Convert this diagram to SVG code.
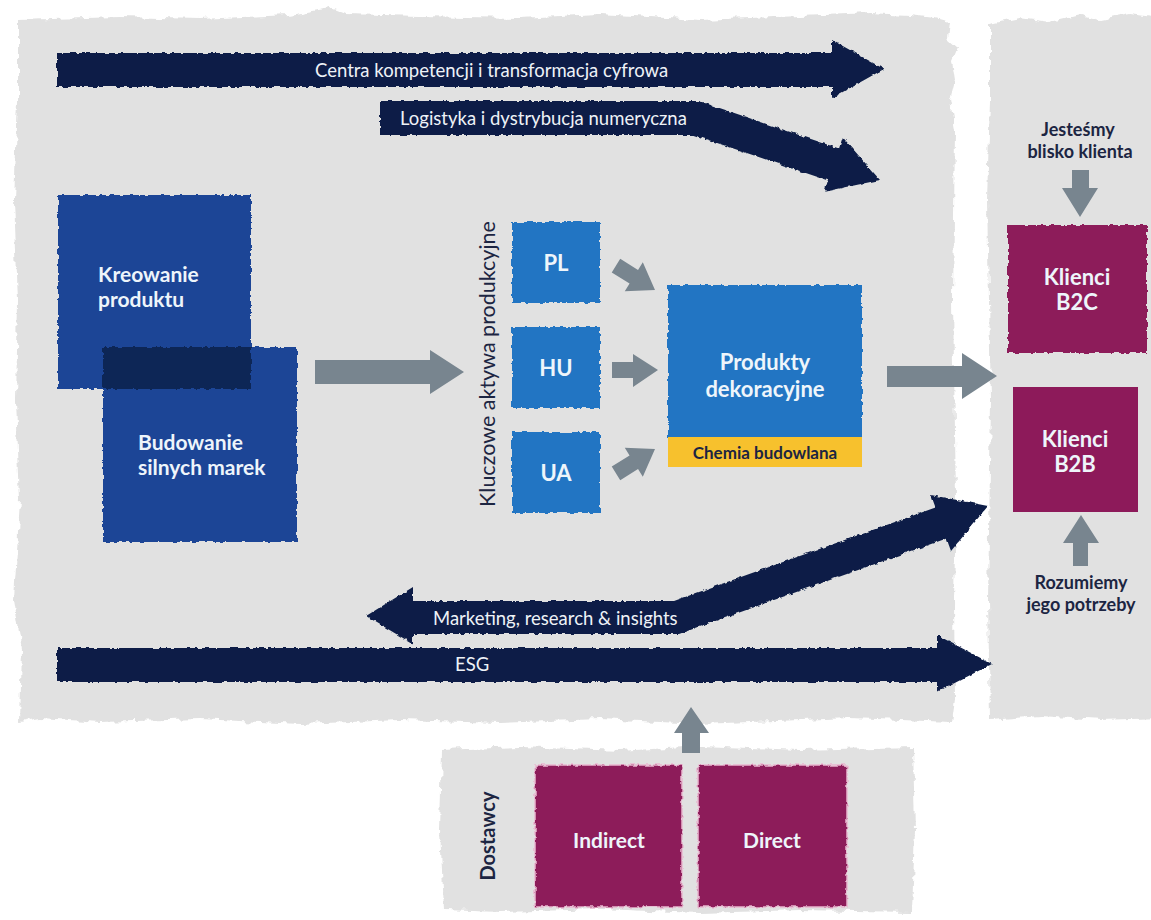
<svg xmlns="http://www.w3.org/2000/svg" width="1151" height="920" viewBox="0 0 1151 920">
  <style>
    .panel { fill: #e1e1e1; }
    .navy { fill: #0e1f47; }
    .grey { fill: #78858f; }
    .royal { fill: #1f4596; }
    .mid { fill: #2474c3; }
    .plum { fill: #8d1a5a; }
    .amber { fill: #f7c12d; }
    .lbl { font-family: Lato, "Liberation Sans", sans-serif; font-weight: 700; fill: #eef5fb; text-anchor: middle; }
    .lbl-l { font-family: Lato, "Liberation Sans", sans-serif; font-weight: 700; fill: #eef5fb; text-anchor: start; font-size: 21px; }
    .band { font-family: Lato, "Liberation Sans", sans-serif; font-size: 18.5px; fill: #eef2f7; }
    .dark { font-family: Lato, "Liberation Sans", sans-serif; font-weight: 700; fill: #1c2542; text-anchor: middle; }
  </style>
  <defs>
    <filter id="torn" x="-5%" y="-5%" width="110%" height="110%">
      <feTurbulence type="fractalNoise" baseFrequency="0.09" numOctaves="3" seed="4" result="n"/>
      <feDisplacementMap in="SourceGraphic" in2="n" scale="8" xChannelSelector="R" yChannelSelector="G"/>
    </filter>
    <filter id="rough" x="-5%" y="-5%" width="110%" height="110%">
      <feTurbulence type="fractalNoise" baseFrequency="0.2" numOctaves="2" seed="7" result="n"/>
      <feDisplacementMap in="SourceGraphic" in2="n" scale="4" xChannelSelector="R" yChannelSelector="G"/>
    </filter>
    <path id="small-arrow" d="M -46 -8 L -25 -8 L -25 -17 L 0 0 L -25 17 L -25 8 L -46 8 Z"/>
  </defs>

  <rect width="1151" height="920" fill="#ffffff"/>

  <!-- background panels -->
  <g id="panel-main">
    <path class="panel" filter="url(#torn)" d="M 18 20 L 120 17 L 200 19 L 290 15 L 330 8 L 345 14 L 420 16 L 520 18 L 600 14 L 700 20 L 800 16 L 870 13 L 910 15 L 935 18 L 950 22 L 948 40 L 957 48 L 952 60 L 955 80 L 950 100 L 955 130 L 953 300 L 956 500 L 954 600 L 955 700 L 952 722 L 850 718 L 700 724 L 600 719 L 500 723 L 400 720 L 300 724 L 200 719 L 100 722 L 40 718 L 20 722 L 22 650 L 14 600 L 20 500 L 16 400 L 18 300 L 14 200 L 18 100 Z"/>
  </g>
  <g id="panel-clients">
    <path class="panel" filter="url(#torn)" d="M 990 24 L 1020 18 L 1050 22 L 1080 15 L 1100 20 L 1130 14 L 1160 18 L 1160 718 L 1100 720 L 1040 716 L 990 720 L 988 600 L 991 400 L 987 200 L 990 100 Z"/>
  </g>
  <g id="panel-suppliers">
    <path class="panel" filter="url(#torn)" d="M 442 750 L 520 747 L 620 751 L 700 746 L 800 750 L 913 747 L 915 830 L 912 912 L 800 910 L 700 913 L 600 909 L 500 912 L 444 910 L 440 830 Z"/>
    <text class="dark" font-size="20" transform="translate(495,836) rotate(-90)">Dostawcy</text>
  </g>

  <!-- brand and product creation -->
  <g id="node-kreowanie">
    <rect class="royal" filter="url(#rough)" x="58" y="195" width="193" height="194"/>
    <text class="lbl-l" x="98" y="282">Kreowanie</text>
    <text class="lbl-l" x="98" y="307">produktu</text>
  </g>
  <g id="node-budowanie">
    <rect class="royal" filter="url(#rough)" x="103" y="347" width="194" height="195"/>
    <rect fill="#0f2657" filter="url(#rough)" x="103" y="347" width="148" height="42"/>
    <text class="lbl-l" x="138" y="450">Budowanie</text>
    <text class="lbl-l" x="138" y="475">silnych marek</text>
  </g>

  <!-- production sites -->
  <g id="label-aktywa">
    <text font-family="Lato, 'Liberation Sans', sans-serif" font-size="21.5" fill="#1c2542" text-anchor="middle" transform="translate(495,364) rotate(-90)">Kluczowe aktywa produkcyjne</text>
  </g>
  <g id="node-pl">
    <rect class="mid" filter="url(#rough)" x="512" y="222" width="88" height="81"/>
    <text class="lbl" font-size="22" x="556" y="271">PL</text>
  </g>
  <g id="node-hu">
    <rect class="mid" filter="url(#rough)" x="512" y="327" width="88" height="81"/>
    <text class="lbl" font-size="22" x="556" y="376">HU</text>
  </g>
  <g id="node-ua">
    <rect class="mid" filter="url(#rough)" x="512" y="432" width="88" height="81"/>
    <text class="lbl" font-size="22" x="556" y="481">UA</text>
  </g>

  <g id="node-produkty">
    <rect class="mid" filter="url(#rough)" x="668" y="285" width="194" height="153"/>
    <rect class="amber" x="668" y="437" width="194" height="30"/>
    <text class="lbl" font-size="22" x="765" y="370">Produkty</text>
    <text class="lbl" font-size="22" x="765" y="397">dekoracyjne</text>
    <text class="dark" font-size="17" x="765" y="459" fill="#2a1d10">Chemia budowlana</text>
  </g>

  <!-- clients -->
  <g id="label-blisko">
    <text class="dark" font-size="18" x="1078" y="136">Jesteśmy</text>
    <text class="dark" font-size="18" x="1080" y="158">blisko klienta</text>
  </g>
  <g id="node-b2c">
    <rect class="plum" filter="url(#rough)" x="1008" y="225" width="139" height="128"/>
    <text class="lbl" font-size="22" x="1077" y="285">Klienci</text>
    <text class="lbl" font-size="22" x="1077" y="310">B2C</text>
  </g>
  <g id="node-b2b">
    <rect class="plum" x="1013" y="387" width="125" height="125"/>
    <text class="lbl" font-size="22" x="1075" y="447">Klienci</text>
    <text class="lbl" font-size="22" x="1075" y="472">B2B</text>
  </g>
  <g id="label-potrzeby">
    <text class="dark" font-size="18" x="1081" y="589">Rozumiemy</text>
    <text class="dark" font-size="18" x="1081" y="611">jego potrzeby</text>
  </g>

  <!-- suppliers -->
  <g id="node-indirect">
    <rect class="plum" filter="url(#rough)" x="535" y="765" width="147" height="142" stroke="#e9b8cf" stroke-width="1.5"/>
    <text class="lbl" font-size="21" x="609" y="848">Indirect</text>
  </g>
  <g id="node-direct">
    <rect class="plum" filter="url(#rough)" x="698" y="765" width="149" height="142" stroke="#e9b8cf" stroke-width="1.5"/>
    <text class="lbl" font-size="21" x="772" y="848">Direct</text>
  </g>

  <!-- connectors -->
  <g id="connectors">
    <!-- cross-cutting capability bands -->
    <path class="navy" filter="url(#rough)" d="M 57 53 L 832 53 L 832 40 L 884 69 L 832 98 L 832 87 L 57 87 Z"/>
    <text class="band" x="315" y="77">Centra kompetencji i transformacja cyfrowa</text>

    <path class="navy" filter="url(#rough)" d="M 380 101 L 699 101 L 839 148.4 L 842.7 137.2 L 880 180 L 824.3 191.8 L 828 180.6 L 693.5 135 L 380 135 Z"/>
    <text class="band" x="400" y="125">Logistyka i dystrybucja numeryczna</text>

    <path class="navy" filter="url(#rough)" d="M 366 616 L 413 587 L 413 601 L 674 601 L 935.5 507.5 L 931 495 L 988 506 L 951 551 L 946.5 538.5 L 679 634 L 413 634 L 413 644 Z"/>
    <text class="band" x="433" y="625">Marketing, research &amp; insights</text>

    <path class="navy" filter="url(#rough)" d="M 57 648 L 937 648 L 937 635 L 992 664 L 937 692 L 937 682 L 57 682 Z"/>
    <text class="band" x="455" y="671">ESG</text>

    <!-- value flow -->
    <path class="grey" d="M 315 360 L 430 360 L 430 350 L 464 372 L 430 394 L 430 384 L 315 384 Z"/>
    <use href="#small-arrow" class="grey" transform="translate(655,290) rotate(32)"/>
    <path class="grey" d="M 612 362 L 633 362 L 633 354 L 658 370 L 633 387 L 633 378 L 612 378 Z"/>
    <use href="#small-arrow" class="grey" transform="translate(655,449) rotate(-32)"/>
    <path class="grey" d="M 887 366 L 962 366 L 962 353 L 997 376 L 962 399 L 962 387 L 887 387 Z"/>

    <path class="grey" d="M 1072 170 L 1089 170 L 1089 188 L 1098 188 L 1080 217 L 1062 188 L 1072 188 Z"/>
    <path class="grey" d="M 1073 566 L 1088 566 L 1088 543 L 1099 543 L 1081 515 L 1063 543 L 1073 543 Z"/>
    <path class="grey" d="M 682 753 L 700 753 L 700 733 L 709 733 L 691 707 L 674 733 L 682 733 Z"/>
  </g>
</svg>
